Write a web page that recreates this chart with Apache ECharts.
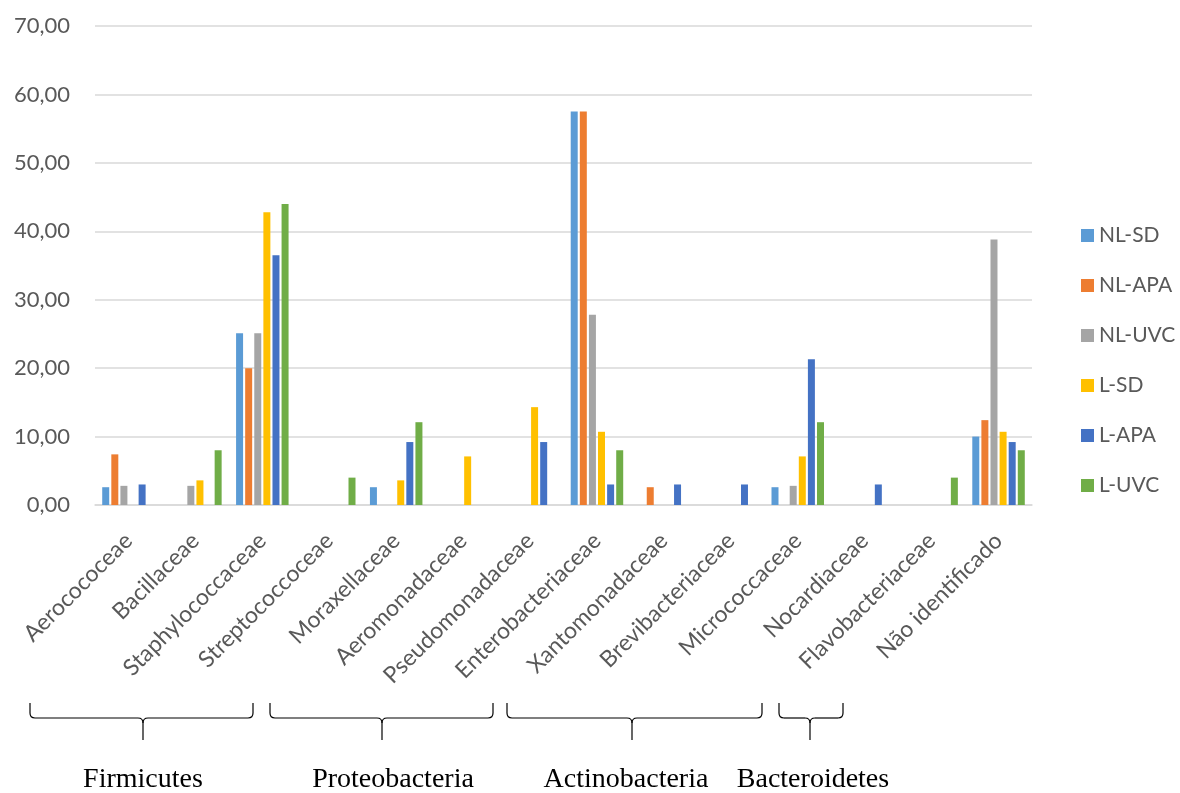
<!DOCTYPE html>
<html>
<head>
<meta charset="utf-8">
<script src="https://cdn.jsdelivr.net/npm/echarts@6/dist/echarts.min.js"></script>
<style>html,body{margin:0;padding:0;background:#fff}#c{width:1180px;height:793px}</style>
</head>
<body>
<div id="c"></div>
<script>
const categories = ["Aerocococeae","Bacillaceae","Staphylococcaceae","Streptococcoceae","Moraxellaceae","Aeromonadaceae","Pseudomonadaceae","Enterobacteriaceae","Xantomonadaceae","Brevibacteriaceae","Micrococcaceae","Nocardiaceae","Flavobacteriaceae","Não identificado"];
const seriesNames = ["NL-SD","NL-APA","NL-UVC","L-SD","L-APA","L-UVC"];
const nlSD  = [2.6, 0, 25.1, 0, 2.6, 0, 0, 57.5, 0, 0, 2.6, 0, 0, 10.0];
const nlAPA = [7.4, 0, 20.0, 0, 0, 0, 0, 57.5, 2.6, 0, 0, 0, 0, 12.4];
const nlUVC = [2.8, 2.8, 25.1, 0, 0, 0, 0, 27.8, 0, 0, 2.8, 0, 0, 38.8];
const lSD   = [0, 3.6, 42.8, 0, 3.6, 7.1, 14.3, 10.7, 0, 0, 7.1, 0, 0, 10.7];
const lAPA  = [3.0, 0, 36.5, 0, 9.2, 0, 9.2, 3.0, 3.0, 3.0, 21.3, 3.0, 0, 9.2];
const lUVC  = [0, 8.0, 44.0, 4.0, 12.1, 0, 0, 8.0, 0, 0, 12.1, 0, 4.0, 8.0];
const phyla = ["Firmicutes","Proteobacteria","Actinobacteria","Bacteroidetes"];

const colors = ["#5B9BD5","#ED7D31","#A5A5A5","#FFC000","#4472C4","#70AD47"];
const allData = [nlSD, nlAPA, nlUVC, lSD, lAPA, lUVC];
const font = "Lato, 'Open Sans', sans-serif";

// brace annotations: [left, right, tip] in pixels, with label centre
const braces = [[30,253,143],[270,493,382],[507,762,632],[779,843,810]];
const phylumLabelX = [143,393,626,813];

const graphics = [];
const st = {stroke:'#000', fill:null, lineWidth:1.2};
braces.forEach((b,i)=>{
  const [x0,x1,xt] = b; const yt=703, yh=718, yb=740, r=5;
  graphics.push({type:'line', shape:{x1:x0,y1:yt,x2:x0,y2:yh-r}, style:st});
  graphics.push({type:'bezierCurve', shape:{x1:x0,y1:yh-r,x2:x0+r,y2:yh,cpx1:x0,cpy1:yh}, style:st});
  graphics.push({type:'line', shape:{x1:x0+r,y1:yh,x2:xt-r,y2:yh}, style:st});
  graphics.push({type:'bezierCurve', shape:{x1:xt-r,y1:yh,x2:xt,y2:yh+r,cpx1:xt,cpy1:yh}, style:st});
  graphics.push({type:'bezierCurve', shape:{x1:xt+r,y1:yh,x2:xt,y2:yh+r,cpx1:xt,cpy1:yh}, style:st});
  graphics.push({type:'line', shape:{x1:xt,y1:yh+r,x2:xt,y2:yb}, style:st});
  graphics.push({type:'line', shape:{x1:xt+r,y1:yh,x2:x1-r,y2:yh}, style:st});
  graphics.push({type:'bezierCurve', shape:{x1:x1-r,y1:yh,x2:x1,y2:yh-r,cpx1:x1,cpy1:yh}, style:st});
  graphics.push({type:'line', shape:{x1:x1,y1:yh-r,x2:x1,y2:yt}, style:st});
  graphics.push({type:'text', x:phylumLabelX[i], y:780, style:{text:phyla[i], font:"28px 'Liberation Serif', 'Times New Roman', serif", fill:'#000', textAlign:'center', textVerticalAlign:'middle'}});
});

const chart = echarts.init(document.getElementById('c'), null, {renderer:'canvas'});
chart.setOption({
  animation:false,
  backgroundColor:'#fff',
  grid:{left:95, right:148, top:26, bottom:288, containLabel:false},
  legend:{
    orient:'vertical', left:1076, top:220, itemWidth:13, itemHeight:13, itemGap:29,
    icon:'rect',
    textStyle:{fontFamily:font, fontSize:21, color:'#595959'},
    data:seriesNames
  },
  xAxis:{
    type:'category', data:categories,
    axisLine:{show:true, lineStyle:{color:'#d9d9d9', width:1.5}},
    axisTick:{show:false},
    axisLabel:{rotate:45, interval:0, margin:32, fontFamily:font, fontSize:23, color:'#595959'}
  },
  yAxis:{
    type:'value', min:0, max:70, interval:10,
    axisLine:{show:false}, axisTick:{show:false},
    splitLine:{lineStyle:{color:'#d9d9d9', width:1.5}},
    axisLabel:{margin:25, fontFamily:font, fontSize:22, color:'#595959', formatter:v=>v.toFixed(2).replace('.',',')}
  },
  series: seriesNames.map((n,i)=>({
    name:n, type:'bar', data:allData[i], barWidth:7, barGap:'30%',
    itemStyle:{color:colors[i]}
  })),
  graphic:graphics
});
</script>
</body>
</html>
